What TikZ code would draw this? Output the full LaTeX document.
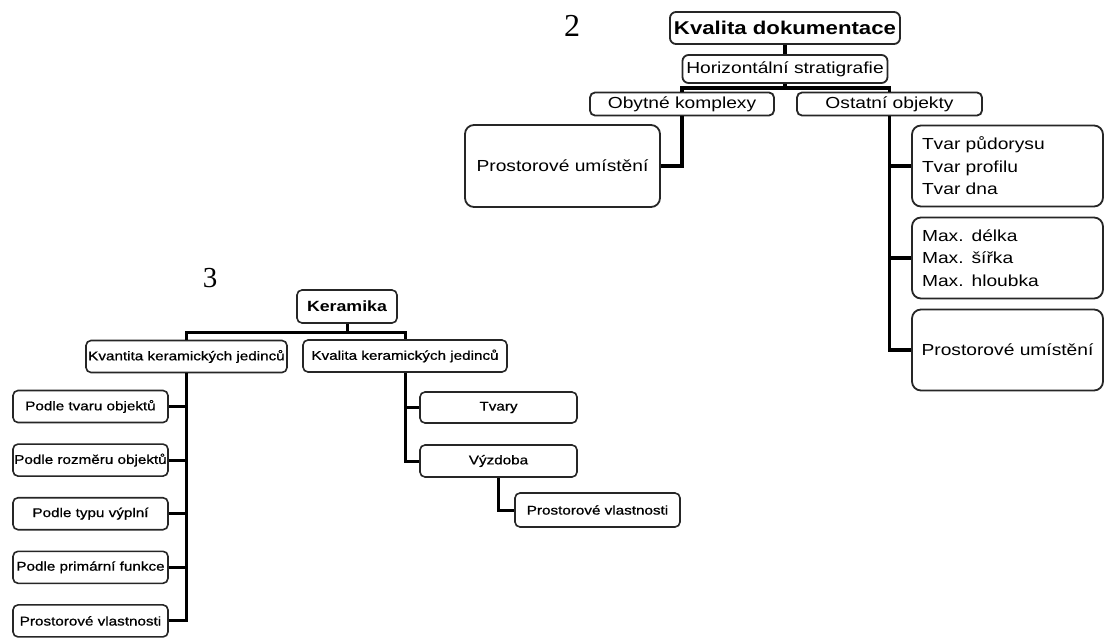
\documentclass[tikz,border=0pt]{standalone}
\usepackage{fontspec}
\setmainfont{Liberation Sans}[FakeStretch=1.2]
\newfontfamily\numfont{Liberation Serif}
\newfontfamily\keramfont{Liberation Sans}[FakeStretch=1.2,FakeBold=0.8]

\begin{document}
\begin{tikzpicture}[x=1pt,y=-1pt,node distance=53.6pt,
				box node/.style = {draw=black!85,line width=1.8pt,rounded corners=9pt,fill=white,inner sep=0pt,align=center,font=\fontsize{16}{22.5}\selectfont},
				small node/.style = {box node,line width=1.6pt,rounded corners=5pt,font=\keramfont\fontsize{12.7}{15}\selectfont,minimum height=32pt},
				list node/.style = {box node,align=left,inner xsep=10pt,text width=171pt,minimum height=81pt},
				link/.style = {line width=3.5pt},
				thin link/.style = {line width=3pt}]
				\useasboundingbox (0,0) rectangle (1105,637);
				% 2
				\node[font=\numfont\fontsize{32}{32}\selectfont] (lab2) at (572,26) {2};
				\node[box node,rounded corners=6pt,minimum width=230pt,minimum height=32pt,font=\bfseries\fontsize{18.5}{20}\selectfont] (k2doc) at (785,28) {Kvalita dokumentace};
				\node[box node,rounded corners=6pt,minimum width=205pt,minimum height=28pt] (horiz) at (785,69) {Horizontální stratigrafie};
				\node[box node,rounded corners=5pt,minimum width=184pt,minimum height=23pt] (obytne) at (682,104) {Obytné komplexy};
				\node[box node,rounded corners=5pt,minimum width=185pt,minimum height=23pt] (ostatni) at (889.5,104) {Ostatní objekty};
				\node[box node,minimum width=195pt,minimum height=82pt] (prost1) at (562.5,166) {Prostorové umístění};
				\node[list node] (tvar) at (1007.5,166) {Tvar půdorysu\\Tvar profilu\\Tvar dna};
				\node[list node,node distance=92pt] [below of = tvar] (max) {Max. délka\\Max. šířka\\Max. hloubka};
				\node[box node,minimum width=191pt,minimum height=81pt,node distance=92pt] [below of = max] (prost2) {Prostorové umístění};
				
				\draw[link] (k2doc.south) -- (horiz.north);
				\draw[link] (horiz.south) -- ++(0,4) coordinate (b2);
				\draw[link] (obytne.north) |- (b2) -| (ostatni.north);
				\draw[link] (obytne.south) |- (prost1.east);
				\draw[link] (ostatni.south) |- (tvar.west)
				(ostatni.south) |- (max.west)
				(ostatni.south) |- (prost2.west);
				
				% 3
				\node[font=\numfont\fontsize{29}{29}\selectfont] (lab3) at (210,278) {3};
				\node[small node,minimum width=100pt,minimum height=33pt,font=\bfseries\fontsize{14.8}{17}\selectfont] (keram) at (347,306.5) {Keramika};
				\node[small node,minimum width=201pt] (kvantita) at (186.5,356.5) {Kvantita keramických jedinců};
				\node[small node,minimum width=204pt] (kvalitak) at (405,356) {Kvalita keramických jedinců};
				\node[small node,minimum width=155pt] (ptvar) at (90.5,406.5) {Podle tvaru objektů};
				\node[small node,minimum width=155pt] [below of = ptvar] (proz) {Podle rozměru objektů};
				\node[small node,minimum width=155pt] [below of = proz] (ptyp) {Podle typu výplní};
				\node[small node,minimum width=155pt] [below of = ptyp] (pfunk) {Podle primární funkce};
				\node[small node,minimum width=155pt] [below of = pfunk] (pvl1) {Prostorové vlastnosti};
				\node[small node,minimum width=157pt,minimum height=31pt] (tvary) at (498.5,407.5) {Tvary};
				\node[small node,minimum width=157pt] (vyzdoba) at (498.5,461) {Výzdoba};
				\node[small node,minimum width=165pt,minimum height=34pt] (pvl2) at (597.5,510) {Prostorové vlastnosti};
				
				\draw[thin link] (keram.south) -- ++(0,9) coordinate (b3);
				\draw[thin link] (kvantita.north) |- (b3) -| (kvalitak.north);
				\draw[thin link] (kvantita.south) |- (ptvar.east)
				(kvantita.south) |- (proz.east)
				(kvantita.south) |- (ptyp.east)
				(kvantita.south) |- (pfunk.east)
				(kvantita.south) |- (pvl1.east);
				\draw[thin link] (kvalitak.south) |- (tvary.west)
				(kvalitak.south) |- (vyzdoba.west);
				\draw[thin link] (vyzdoba.south) |- (pvl2.west);
\end{tikzpicture}
\end{document}
